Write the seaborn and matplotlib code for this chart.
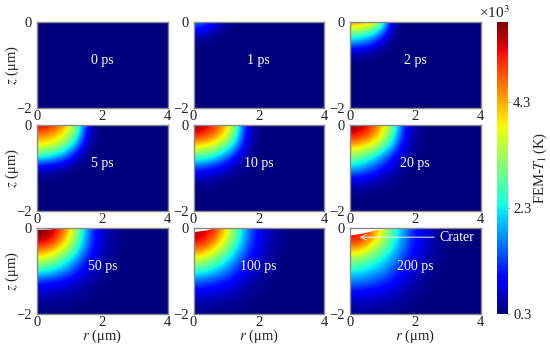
import matplotlib
matplotlib.use("Agg")
import matplotlib.pyplot as plt
import numpy as np
import pandas as pd
import seaborn as sns

sns.set_style("white")
plt.rcParams['font.family'] = ['Liberation Serif', 'DejaVu Serif']
plt.rcParams['mathtext.fontset'] = 'stix'

# temperature in 10^3 K, rows are z = 0, -0.25 ... -2, columns r = 0, 0.25 ... 4
# rows and columns left out are the 0.3 background
r_nodes = [0.25 * i for i in range(17)]
z_nodes = [-0.25 * i for i in range(9)]
base_temp = 0.3

t_0ps = []
t_1ps = [[1.7, 1.6, 1.2, .8, .5, .35],
         [.8, .75, .6, .4, .32],
         [.35, .33]]
t_2ps = [[4.8, 4.7, 4.5, 4.1, 2.9, 1.0, .35],
         [3.1, 3.0, 2.8, 2.4, 1.6, .6],
         [1.8, 1.7, 1.5, 1.1, .6, .33],
         [.5, .45, .4, .33]]
t_5ps = [[5.5, 5.4, 5.1, 4.6, 3.8, 2.9, 1.2, .4],
         [4.6, 4.5, 4.3, 4.0, 3.4, 2.5, 1.0, .35],
         [3.8, 3.7, 3.5, 3.1, 2.5, 1.6, .6, .32],
         [2.5, 2.4, 2.1, 1.8, 1.2, .6, .35],
         [.7, .65, .6, .5, .4, .32],
         [.33, .32]]
t_10ps = [[5.8, 5.6, 5.3, 4.8, 4.1, 3.2, 1.5, .6, .35],
          [5.2, 5.1, 4.8, 4.4, 3.8, 2.8, 1.4, .55, .33],
          [4.0, 3.9, 3.7, 3.3, 2.8, 2.0, 1.0, .45, .32],
          [2.8, 2.7, 2.5, 2.1, 1.6, 1.0, .6, .35],
          [1.3, 1.25, 1.1, .95, .7, .5, .37, .31],
          [.55, .52, .48, .42, .37, .33],
          [.33, .33, .32, .31]]
t_20ps = [[5.8, 5.7, 5.4, 4.8, 4.1, 3.3, 1.9, .85, .5, .36],
          [5.3, 5.2, 4.9, 4.5, 3.8, 2.9, 1.7, .8, .45, .34],
          [4.2, 4.1, 3.9, 3.5, 2.9, 2.2, 1.2, .65, .4, .32],
          [3.1, 3.0, 2.7, 2.3, 1.8, 1.2, .75, .48, .34],
          [2.1, 2.0, 1.7, 1.4, 1.05, .75, .5, .37, .31],
          [.9, .87, .8, .7, .55, .43, .35, .31],
          [.42, .41, .38, .36, .33, .31],
          [.31, .31]]
t_50ps = [[5.8, 5.8, 5.5, 4.9, 4.1, 3.1, 2.0, 1.1, .7, .5, .38, .32],
          [5.7, 5.6, 5.2, 4.6, 3.8, 2.9, 1.9, 1.05, .68, .48, .37, .32],
          [4.7, 4.6, 4.3, 3.8, 3.2, 2.4, 1.6, .95, .62, .45, .35, .31],
          [3.6, 3.5, 3.2, 2.8, 2.3, 1.7, 1.15, .78, .52, .4, .33],
          [2.5, 2.4, 2.2, 1.9, 1.55, 1.15, .85, .6, .43, .34, .31],
          [1.2, 1.15, 1.05, .95, .8, .65, .52, .42, .35, .31],
          [.65, .63, .6, .55, .5, .44, .38, .34, .31],
          [.4, .4, .38, .37, .35, .33, .31],
          [.32, .32, .31, .31]]
t_100ps = [[5.4, 5.4, 5.3, 4.8, 3.9, 3.0, 2.2, 1.4, .9, .65, .47, .36, .31],
           [5.5, 5.4, 5.0, 4.4, 3.7, 2.9, 2.1, 1.35, .88, .62, .45, .35, .31],
           [4.7, 4.6, 4.2, 3.7, 3.1, 2.4, 1.75, 1.15, .8, .55, .42, .34],
           [3.6, 3.5, 3.2, 2.8, 2.3, 1.8, 1.3, .95, .65, .48, .37, .32],
           [2.6, 2.5, 2.3, 2.0, 1.7, 1.3, .98, .72, .52, .4, .33],
           [1.5, 1.45, 1.35, 1.2, 1.05, .85, .68, .52, .42, .35, .31],
           [.85, .83, .78, .72, .65, .55, .47, .4, .35, .32],
           [.5, .5, .47, .45, .42, .39, .36, .33, .31],
           [.36, .35, .35, .34, .33, .32, .31]]
t_200ps = [[5.3, 5.3, 5.1, 4.6, 3.7, 2.9, 2.3, 1.6, 1.1, .8, .58, .42, .33],
           [5.3, 5.2, 4.8, 4.2, 3.5, 2.8, 2.1, 1.5, 1.05, .75, .55, .4, .32],
           [4.4, 4.3, 3.9, 3.4, 2.9, 2.4, 1.85, 1.35, .95, .7, .5, .38, .32],
           [3.2, 3.1, 2.9, 2.6, 2.3, 1.9, 1.5, 1.1, .8, .6, .45, .35, .31],
           [2.4, 2.35, 2.2, 2.0, 1.8, 1.5, 1.15, .87, .65, .5, .39, .33],
           [1.7, 1.65, 1.55, 1.4, 1.25, 1.05, .85, .65, .52, .42, .35, .31],
           [.95, .93, .9, .85, .78, .68, .58, .48, .41, .36, .32],
           [.6, .58, .57, .54, .5, .46, .41, .37, .34, .32],
           [.42, .42, .41, .4, .38, .36, .34, .32, .31]]

panels = [t_0ps, t_1ps, t_2ps, t_5ps, t_10ps, t_20ps, t_50ps, t_100ps, t_200ps]
labels = ['0 ps', '1 ps', '2 ps', '5 ps', '10 ps', '20 ps', '50 ps', '100 ps', '200 ps']

# crater profile (r, depth) for the late panels
crater_50_r = [0, 0.4, 0.5]
crater_50_d = [0.04, 0.03, 0]
crater_100_r = [0, 0.4, 0.65]
crater_100_d = [0.09, 0.05, 0]
crater_200_r = [0, 0.25, 0.5, 0.8, 1.3]
crater_200_d = [0.17, 0.14, 0.1, 0.05, 0]
craters = {6: (crater_50_r, crater_50_d), 7: (crater_100_r, crater_100_d), 8: (crater_200_r, crater_200_d)}

cbar_ticks = [0.3, 2.3, 4.3]
t_min, t_max = 0.3, 5.8

W, H = 550, 350
col_x = [37, 193.5, 350]
row_y = [21.7, 124.5, 227.7]
ax_w, ax_h = 130.5, 86.3
grey = '#8a8a8a'
ink = '#222222'


def to_table(rows):
    a = np.full((len(z_nodes), len(r_nodes)), base_temp)
    for i, row in enumerate(rows):
        a[i, :len(row)] = row
    return pd.DataFrame(a, index=z_nodes, columns=r_nodes)


fig = plt.figure(figsize=(W / 100, H / 100), dpi=100)
cax = fig.add_axes([497.3 / W, 1 - 314 / H, 11 / W, 292 / H])

for i, rows in enumerate(panels):
    col, row = i % 3, i // 3
    ax = fig.add_axes([col_x[col] / W, 1 - (row_y[row] + ax_h) / H, ax_w / W, ax_h / H])
    df = to_table(rows)
    last = i == len(panels) - 1
    sns.heatmap(df, ax=ax, cmap='jet', vmin=t_min, vmax=t_max, cbar=last,
                cbar_ax=cax if last else None, cbar_kws={'ticks': cbar_ticks},
                xticklabels=False, yticklabels=False)
    # smooth rendering of the same table on top of the heatmap cells
    ax.imshow(df.values, cmap='jet', vmin=t_min, vmax=t_max, interpolation='bicubic',
              extent=(0, len(r_nodes), len(z_nodes), 0), aspect='auto', zorder=2)
    ax.set_xlim(0.5, len(r_nodes) - 0.5)
    ax.set_ylim(len(z_nodes) - 0.5, 0.5)

    if i in craters:
        cr, cd = craters[i]
        ax.fill_between(np.array(cr) / 0.25 + 0.5, 0.5, np.array(cd) / 0.25 + 0.5,
                        color='white', lw=0, zorder=3)

    ax.set_xticks([0.5, 8.5, 16.5])
    ax.set_xticklabels(['0', '2', '4'], fontsize=10.5)
    ax.set_yticks([0.5, 8.5])
    ax.set_yticklabels(['0', '\u22122'], fontsize=10.5)
    ax.tick_params(axis='y', length=0, pad=3.5, colors=ink)
    ax.tick_params(axis='x', length=0, pad=1.5, colors=ink)
    for s in ax.spines.values():
        s.set_visible(True)
        s.set_color(grey)
        s.set_linewidth(1)
        s.set_zorder(5)

    ax.text(2 / 0.25 + 0.5, 0.9 / 0.25 + 0.5, labels[i], color='white', fontsize=10,
            ha='center', va='center', zorder=4)
    if col == 0:
        ax.set_ylabel('$z$ (\u03bcm)', fontsize=10.5, labelpad=-3, color=ink)
    if row == 2:
        ax.set_xlabel('$r$ (\u03bcm)', fontsize=10.5, labelpad=-1, color=ink)
    if last:
        ax.annotate('', xy=(0.3 / 0.25 + 0.5, 0.22 / 0.25 + 0.5), xytext=(2.58 / 0.25 + 0.5, 0.22 / 0.25 + 0.5),
                    arrowprops=dict(arrowstyle='->', color='#eef2ff', lw=0.7, shrinkA=0, shrinkB=0), zorder=4)
        ax.text(3.26 / 0.25 + 0.5, 0.22 / 0.25 + 0.5, 'Crater', color='white', fontsize=10,
                ha='center', va='center', zorder=4)

cax.tick_params(length=1, width=0.6, pad=2.5, labelsize=10.5, colors=ink, right=True)
cax.yaxis.set_ticks_position('right')
cax.set_ylabel('FEM-$T_{\\mathrm{l}}$ (K)', fontsize=10.5, labelpad=0, color=ink)
fig.text(494 / W, 1 - 13 / H, '\u00d710$^{3}$', fontsize=11, ha='center', va='center', color=ink)

fig.savefig('out.png', dpi=100)
